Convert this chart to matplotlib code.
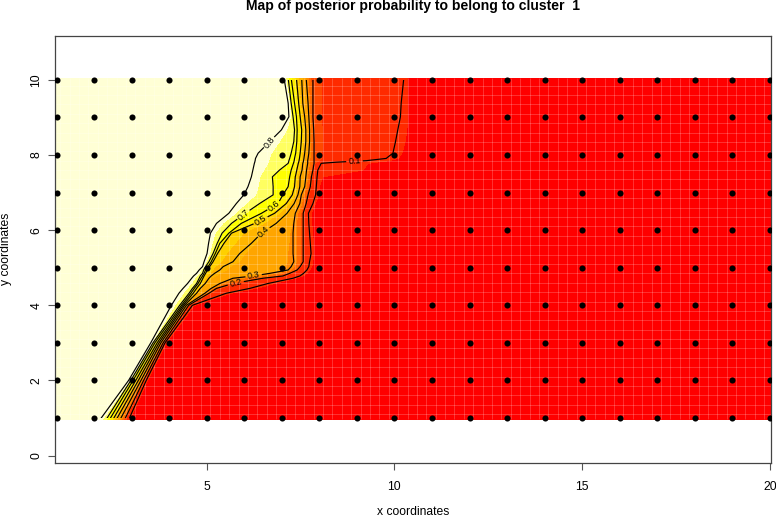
import numpy as np
import matplotlib
matplotlib.use('Agg')
import matplotlib.pyplot as plt
from matplotlib.patches import Rectangle

plt.rcParams['font.family'] = ['Liberation Sans', 'DejaVu Sans']

# rows of the map (y), top to bottom
y_rows = [10.05, 9.38, 9.02, 8.67, 8.36, 8.05, 7.91, 7.85, 7.81, 7.78, 7.60, 7.42, 7.16, 6.94,
          6.71, 6.45, 6.18, 5.92, 5.65, 5.38, 5.16, 5.03, 4.94, 4.85, 4.78, 4.72, 4.58, 4.45,
          4.32, 4.00, 3.00, 2.00, 0.97]

# x where the posterior probability takes each value, on each row
x_p80 = [7.06, 7.17, 7.19, 6.99, 6.68, 6.37, 6.30, 6.29, 6.28, 6.27, 6.23, 6.19, 6.10, 5.99,
         5.79, 5.59, 5.26, 5.10, 5.05, 5.01, 4.93, 4.89, 4.80, 4.73, 4.65, 4.60, 4.49, 4.37,
         4.26, 4.06, 3.51, 2.92, 2.17]
x_p70 = [7.17, 7.25, 7.30, 7.34, 7.32, 7.25, 7.21, 7.19, 7.18, 7.17, 6.94, 6.75, 6.77, 6.77,
         6.41, 6.03, 5.66, 5.41, 5.28, 5.17, 5.06, 4.97, 4.92, 4.89, 4.83, 4.80, 4.73, 4.62,
         4.53, 4.28, 3.57, 2.98, 2.33]
x_p60 = [7.25, 7.34, 7.39, 7.41, 7.40, 7.37, 7.34, 7.33, 7.32, 7.31, 7.25, 7.21, 7.17, 7.03,
         6.90, 6.46, 5.92, 5.59, 5.35, 5.23, 5.12, 5.04, 4.97, 4.93, 4.89, 4.85, 4.77, 4.67,
         4.58, 4.33, 3.62, 3.04, 2.42]
x_p50 = [7.39, 7.45, 7.49, 7.53, 7.52, 7.49, 7.47, 7.46, 7.45, 7.44, 7.40, 7.36, 7.34, 7.28,
         7.12, 6.81, 6.28, 5.66, 5.46, 5.29, 5.17, 5.08, 5.02, 4.97, 4.93, 4.90, 4.83, 4.73,
         4.64, 4.37, 3.68, 3.11, 2.51]
x_p40 = [7.53, 7.56, 7.61, 7.64, 7.64, 7.61, 7.59, 7.58, 7.57, 7.56, 7.54, 7.49, 7.48, 7.43,
         7.33, 7.14, 6.85, 6.46, 6.19, 5.88, 5.70, 5.44, 5.35, 5.21, 5.12, 5.06, 4.96, 4.83,
         4.73, 4.41, 3.73, 3.18, 2.60]
x_p30 = [7.65, 7.70, 7.72, 7.74, 7.74, 7.72, 7.70, 7.69, 7.69, 7.69, 7.66, 7.64, 7.61, 7.52,
         7.48, 7.36, 7.32, 7.30, 7.30, 7.30, 7.32, 7.25, 7.17, 6.68, 6.23, 5.70, 5.35, 5.12,
         4.95, 4.46, 3.78, 3.25, 2.70]
x_p20 = [7.83, 7.83, 7.83, 7.85, 7.86, 7.86, 7.86, 7.86, 7.86, 7.86, 7.83, 7.79, 7.76, 7.70,
         7.65, 7.57, 7.57, 7.57, 7.57, 7.57, 7.57, 7.49, 7.41, 7.21, 7.03, 6.50, 5.70, 5.26,
         5.06, 4.52, 3.84, 3.32, 2.82]
x_p10 = [10.25, 10.18, 10.16, 10.09, 10.03, 9.96, 9.78, 9.25, 8.45, 8.05, 7.96, 7.94, 7.92, 7.90,
         7.83, 7.71, 7.72, 7.74, 7.76, 7.78, 7.74, 7.72, 7.67, 7.58, 7.48, 7.30, 6.63, 6.15,
         5.52, 4.62, 3.89, 3.39, 2.93]
x_p05 = [10.40, 10.45, 10.49, 10.49, 10.45, 10.36, 10.31, 10.27, 10.22, 10.13, 9.95, 8.19, 8.05, 8.03,
         7.94, 7.83, 7.85, 7.88, 7.89, 7.91, 7.88, 7.85, 7.80, 7.72, 7.61, 7.43, 6.94, 6.41,
         5.74, 4.70, 3.95, 3.45, 2.98]

prob_levels = [0.9, 0.8, 0.7, 0.6, 0.5, 0.4, 0.3, 0.2, 0.1, 0.05, 0.0]
contour_levels = [0.1, 0.2, 0.3, 0.4, 0.5, 0.6, 0.7, 0.8]

# colour classes of the map
class_edges = [0.0, 0.07, 0.19, 0.23, 0.27, 0.31, 0.39, 0.46, 0.53, 0.6, 0.7, 0.76, 1.0]
class_colors = ['#FF0000', '#FF2A00', '#FF4800', '#FF6A00', '#FF8A00', '#FFA500',
                '#FFB500', '#FFD000', '#FFEE00', '#FFFF00', '#FFFF60', '#FFFFD5']

# sampling sites
x_sites = list(range(1, 21))
y_sites = list(range(1, 11))

# labels placed by hand on the contours
label_spots = [(8.94, 7.80), (5.77, 4.60), (6.25, 4.79), (6.54, 5.92),
               (6.46, 6.23), (6.81, 6.63), (5.99, 6.40), (6.68, 8.33)]

n_rows = len(y_rows)
X = np.column_stack([np.full(n_rows, 0.9), x_p80, x_p70, x_p60, x_p50, x_p40, x_p30, x_p20,
                     x_p10, x_p05, np.full(n_rows, 20.1)])
Y = np.tile(np.array(y_rows)[:, None], (1, X.shape[1]))
Z = np.tile(np.array(prob_levels), (n_rows, 1))

fig = plt.figure(figsize=(7.76, 5.18), dpi=100)
ax = fig.add_axes([55 / 776, (518 - 462.5) / 518, 716 / 776, 426.5 / 518])

ax.contourf(X, Y, Z, levels=class_edges, colors=class_colors, zorder=1)

# light seams between the image cells
ax.vlines(np.arange(1.1, 20.1, 0.25), 0.97, 10.05, color='white', alpha=0.2, lw=0.7, zorder=2)
ax.hlines(np.arange(1.1, 10.05, 0.25), 0.9, 20.1, color='white', alpha=0.2, lw=0.7, zorder=2)

cs = ax.contour(X, Y, Z, levels=contour_levels, colors='black', linewidths=0.85, zorder=3)
ax.clabel(cs, fmt='%.1f', fontsize=6.5, inline=True, inline_spacing=2, manual=label_spots)
cs.set_clip_path(Rectangle((0.9, 1.0), 19.2, 9.0, transform=ax.transData))

xx, yy = np.meshgrid(x_sites, y_sites)
ax.plot(xx.ravel(), yy.ravel(), 'o', color='black', ms=4.4, mew=0, zorder=4)

ax.set_xlim(0.96, 20.03)
ax.set_ylim(-0.186, 11.17)
ax.set_xticks([5, 10, 15, 20])
ax.set_yticks([0, 2, 4, 6, 8, 10])
ax.tick_params(axis='both', length=5, width=0.8, color='#555555', labelsize=8.7)
ax.tick_params(axis='x', pad=8)
ax.tick_params(axis='y', pad=4)
for t in ax.get_yticklabels():
    t.set_rotation(90)
    t.set_va('center')
for s in ax.spines.values():
    s.set_color('#444444')
    s.set_linewidth(0.9)

fig.text(413 / 776, 1 - 6 / 518, 'Map of posterior probability to belong to cluster  1',
         ha='center', va='center', fontsize=10.05, fontweight='bold')
fig.text(413.5 / 776, 1 - 512 / 518, 'x coordinates', ha='center', va='center', fontsize=8.7)
fig.text(6 / 776, 1 - 249 / 518, 'y coordinates', ha='center', va='center', rotation=90, fontsize=8.7)

fig.savefig('out.png', dpi=100)
